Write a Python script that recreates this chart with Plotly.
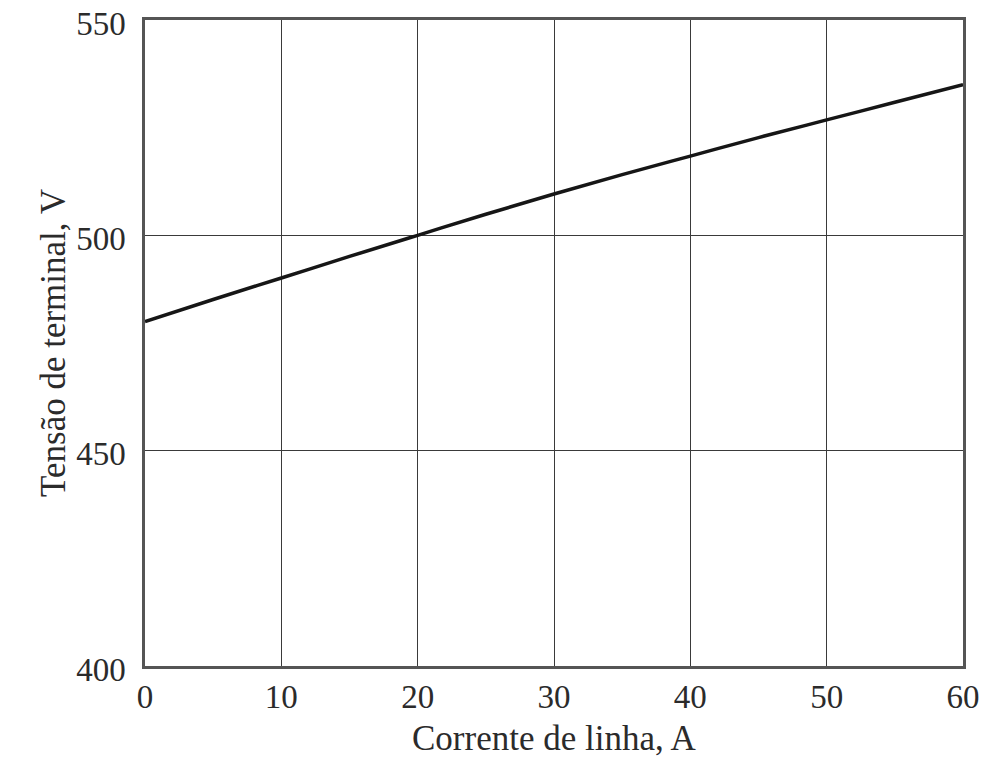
import plotly.graph_objects as go

current = [0, 5, 10, 15, 20, 25, 30, 35, 40, 45, 50, 55, 60]
voltage = [480, 485.1, 490.1, 495.1, 500, 504.9, 509.6, 514.1, 518.4, 522.7, 526.8, 530.9, 535]

x_ticks = [0, 10, 20, 30, 40, 50, 60]
y_ticks = [400, 450, 500, 550]
x_title = "Corrente de linha, A"
y_title = "Tensão de terminal, V"

font = "Liberation Serif, Times New Roman, serif"
txt = "#2b2b2b"

fig = go.Figure()
fig.add_trace(go.Scatter(x=current, y=voltage, mode="lines",
                         line=dict(color="#161616", width=3.5), line_shape="spline",
                         showlegend=False))

fig.update_layout(
    width=984, height=750,
    margin=dict(l=137, r=29, t=12, b=92),
    paper_bgcolor="white", plot_bgcolor="white",
    font=dict(family=font, size=33, color=txt),
)
fig.add_annotation(text=x_title, xref="paper", yref="paper", x=0.5, y=0,
                   xanchor="center", yanchor="top", yshift=-51, showarrow=False,
                   font=dict(size=35, family=font, color=txt))
fig.update_xaxes(range=[0, 60], tickvals=x_ticks, showgrid=True, gridcolor="#3a3a3a", gridwidth=1,
                 showline=True, linecolor="#555555", linewidth=2.5, mirror=True,
                 ticks="", zeroline=False, tickfont=dict(size=33, family=font, color=txt),
                 automargin=False, ticklabeloverflow="allow")
fig.update_yaxes(range=[400, 550], tickvals=y_ticks, showgrid=True, gridcolor="#3a3a3a", gridwidth=1,
                 showline=True, linecolor="#555555", linewidth=2.5, mirror=True,
                 ticks="", zeroline=False, tickfont=dict(size=33, family=font, color=txt),
                 automargin=False, ticklabeloverflow="allow", ticklabelstandoff=10, ticklabelshift=3,
                 title=dict(text=y_title, font=dict(size=35, family=font, color=txt), standoff=0))

fig.write_html("out.html")
